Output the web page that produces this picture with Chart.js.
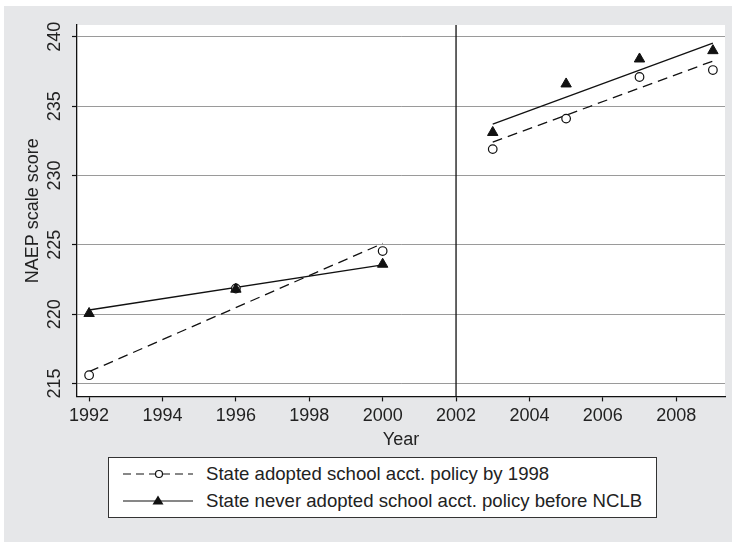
<!DOCTYPE html>
<html>
<head>
<meta charset="utf-8">
<script src="https://cdn.jsdelivr.net/npm/chart.js@4.4.1/dist/chart.umd.min.js"></script>
<style>
  html, body { margin: 0; padding: 0; background: #fff; }
  #wrap { position: relative; width: 732px; height: 542px; }
  #legend {
    position: absolute; left: 108px; top: 457px; width: 547px; height: 59px;
    background: #fff; border: 1px solid #333;
    font-family: "Liberation Sans", Arial, sans-serif; font-size: 18.6px; color: #222;
  }
  #legend .row { position: absolute; left: 14px; height: 20px; display: flex; align-items: center; }
  #legend svg { width: 70px; height: 20px; margin-right: 13px; }
</style>
</head>
<body>
<div id="wrap">
  <canvas id="chart" width="732" height="542"></canvas>
  <div id="legend">
    <div class="row" style="top:6px">
      <svg viewBox="0 0 70 20"><line x1="0" y1="10" x2="70" y2="10" stroke="#111" stroke-width="1.2" stroke-dasharray="8,5"/><circle cx="36" cy="10" r="3.5" fill="#fff" stroke="#111" stroke-width="1.2"/></svg>
      <span>State adopted school acct. policy by 1998</span>
    </div>
    <div class="row" style="top:33px">
      <svg viewBox="0 0 70 20"><line x1="0" y1="10" x2="70" y2="10" stroke="#111" stroke-width="1.2"/><polygon points="35,4.5 40.5,13.5 29.5,13.5" fill="#111"/></svg>
      <span>State never adopted school acct. policy before NCLB</span>
    </div>
  </div>
</div>
<script>
// NAEP scores around NCLB

const yearsPre = [1992, 1996, 2000];
const yearsPost = [2003, 2005, 2007, 2009];
const adoptedPre = [215.6, 221.85, 224.55];
const adoptedPost = [231.9, 234.1, 237.1, 237.6];
const neverPre = [220.05, 221.8, 223.6];
const neverPost = [233.1, 236.6, 238.4, 239.0];

// fitted lines (end points)
const fitYearsPre = [1992, 2000];
const fitYearsPost = [2003, 2009];
const adoptedFitPre = [215.85, 225.1];
const adoptedFitPost = [232.4, 238.25];
const neverFitPre = [220.3, 223.55];
const neverFitPost = [233.7, 239.55];

const cutYear = 2002;
const xTicks = [1992, 1994, 1996, 1998, 2000, 2002, 2004, 2006, 2008];
const yTicks = [215, 220, 225, 230, 235, 240];
const xRange = [1991.67, 2009.33];
const yRange = [214.07, 240.85];

const FONT = "'Liberation Sans', Arial, sans-serif";
const INK = '#111';

function pts(xs, ys) {
  return xs.map((x, i) => ({ x: x, y: ys[i] }));
}

function lineSet(xs, ys, dashed) {
  return {
    data: pts(xs, ys),
    showLine: true,
    borderColor: INK,
    borderWidth: 1.3,
    borderDash: dashed ? [10, 6] : [],
    pointRadius: 0
  };
}

const bgPlugin = {
  id: 'bg',
  beforeDraw(chart) {
    const ctx = chart.ctx;
    const a = chart.chartArea;
    ctx.save();
    ctx.fillStyle = '#fff';
    ctx.fillRect(0, 0, chart.width, chart.height);
    ctx.fillStyle = '#e6e7e9';
    ctx.fillRect(4, 6, chart.width - 4, chart.height - 6);
    ctx.fillStyle = '#fff';
    ctx.fillRect(a.left, a.top, a.right - a.left, a.bottom - a.top);
    ctx.restore();
  }
};

// y tick labels are rotated in the original, Chart.js won't rotate them on a vertical axis
const yLabelPlugin = {
  id: 'yLabels',
  afterDraw(chart) {
    const ctx = chart.ctx;
    const y = chart.scales.y;
    ctx.save();
    ctx.fillStyle = '#222';
    ctx.font = '18px ' + FONT;
    ctx.textAlign = 'center';
    ctx.textBaseline = 'middle';
    yTicks.forEach(v => {
      ctx.save();
      ctx.translate(55.5, y.getPixelForValue(v));
      ctx.rotate(-Math.PI / 2);
      ctx.fillText(String(v), 0, 0);
      ctx.restore();
    });
    ctx.restore();
  }
};

new Chart(document.getElementById('chart'), {
  type: 'scatter',
  data: {
    datasets: [
      {
        data: pts(yearsPre.concat(yearsPost), neverPre.concat(neverPost)),
        pointStyle: 'triangle',
        pointRadius: 6,
        pointBackgroundColor: INK,
        pointBorderColor: INK,
        pointBorderWidth: 1
      },
      {
        data: pts(yearsPre.concat(yearsPost), adoptedPre.concat(adoptedPost)),
        pointStyle: 'circle',
        pointRadius: 4.3,
        pointBackgroundColor: '#fff',
        pointBorderColor: INK,
        pointBorderWidth: 1.2
      },
      lineSet(fitYearsPre, adoptedFitPre, true),
      lineSet(fitYearsPost, adoptedFitPost, true),
      lineSet(fitYearsPre, neverFitPre, false),
      lineSet(fitYearsPost, neverFitPost, false),
      lineSet([cutYear, cutYear], yRange, false)
    ]
  },
  options: {
    responsive: false,
    animation: false,
    devicePixelRatio: 1,
    layout: { padding: { left: 22.7, top: 25, right: 7, bottom: 91.4 } },
    plugins: { legend: { display: false }, tooltip: { enabled: false } },
    scales: {
      x: {
        type: 'linear',
        min: xRange[0],
        max: xRange[1],
        afterBuildTicks: s => { s.ticks = xTicks.map(v => ({ value: v })); },
        border: { color: INK, width: 1.3 },
        grid: { drawOnChartArea: false, tickLength: 5, tickColor: INK, tickWidth: 1.2 },
        ticks: {
          padding: 4,
          maxRotation: 0,
          color: '#222',
          font: { family: FONT, size: 18 },
          callback: v => String(v)
        },
        title: {
          display: true,
          text: 'Year',
          color: '#222',
          font: { family: FONT, size: 18 },
          padding: { top: -2, bottom: 0 }
        }
      },
      y: {
        type: 'linear',
        min: yRange[0],
        max: yRange[1],
        afterBuildTicks: s => { s.ticks = yTicks.map(v => ({ value: v })); },
        border: { color: INK, width: 1.3 },
        grid: { color: '#9a9a9a', lineWidth: 1, tickLength: 5, tickColor: INK, tickWidth: 1.2 },
        ticks: { display: false },
        title: {
          display: true,
          text: 'NAEP scale score',
          color: '#222',
          font: { family: FONT, size: 18 },
          padding: { top: 0, bottom: 27.7 }
        }
      }
    }
  },
  plugins: [bgPlugin, yLabelPlugin]
});
</script>
</body>
</html>
